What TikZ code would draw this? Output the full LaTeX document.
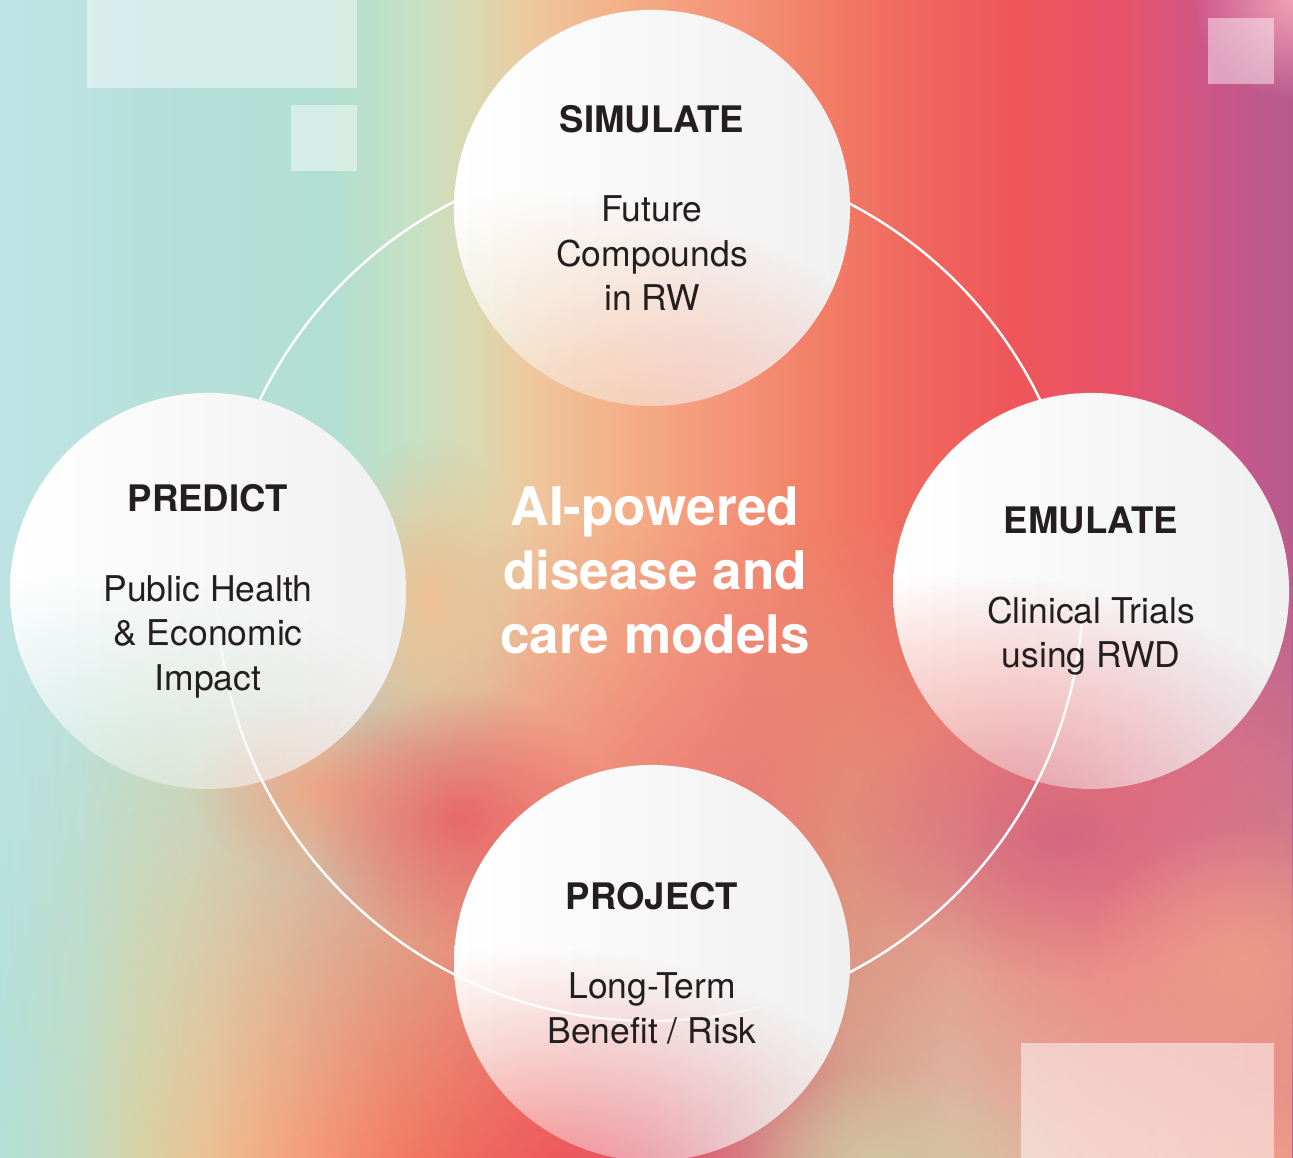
\documentclass[tikz,border=0pt]{standalone}
\usepackage{fontspec}
\setmainfont{TeX Gyre Heros}
\usetikzlibrary{fadings}

\definecolor{ink}{HTML}{231F20}
% upper wash, left to right
\definecolor{tg0}{HTML}{C0E4E6}
\definecolor{tg1}{HTML}{B6E0DA}
\definecolor{tg2}{HTML}{B2DFD2}
\definecolor{tg3}{HTML}{C8E0C2}
\definecolor{tg4}{HTML}{DCD8B0}
\definecolor{tg5}{HTML}{EEC89E}
\definecolor{tg6}{HTML}{F4B088}
\definecolor{tg7}{HTML}{F4967A}
\definecolor{tg8}{HTML}{F27E66}
\definecolor{tg9}{HTML}{F0665E}
\definecolor{tg10}{HTML}{EE555A}
\definecolor{tg11}{HTML}{E9526A}
\definecolor{tg12}{HTML}{CC5788}
\definecolor{tg13}{HTML}{B65A8E}
% lower wash, left to right
\definecolor{lg0}{HTML}{B3E0D6}
\definecolor{lg1}{HTML}{C2DCC4}
\definecolor{lg2}{HTML}{D8D2A4}
\definecolor{lg3}{HTML}{EAC496}
\definecolor{lg4}{HTML}{F3AE84}
\definecolor{lg5}{HTML}{F59474}
\definecolor{lg6}{HTML}{F27C64}
\definecolor{lg7}{HTML}{EF6A5E}
\definecolor{lg8}{HTML}{EE5A5C}
\definecolor{lg9}{HTML}{E4586A}
\definecolor{lg10}{HTML}{D8687A}
\definecolor{lg11}{HTML}{D2A894}
\definecolor{lg12}{HTML}{DCBEA8}
\definecolor{lg13}{HTML}{EAA898}
\definecolor{lg14}{HTML}{EF9A88}
% spots
\definecolor{spotred}{HTML}{EA5460}
\definecolor{spotpink}{HTML}{F2A0B4}
\definecolor{spotsand}{HTML}{EEC294}
\definecolor{spotplum}{HTML}{CC5E82}
\definecolor{spottan}{HTML}{D2C2A0}
\definecolor{spotsalmon}{HTML}{EF9A88}
\definecolor{spotorange}{HTML}{F4A07C}

\pgfdeclarehorizontalshading{topglow}{100bp}{color(0bp)=(tg0); color(25bp)=(tg0);
  color(30.8bp)=(tg1); color(37.76bp)=(tg2); color(41.24bp)=(tg3); color(43.56bp)=(tg4);
  color(45.49bp)=(tg5); color(48.97bp)=(tg6); color(52.84bp)=(tg7); color(56.71bp)=(tg8);
  color(60.58bp)=(tg9); color(64.44bp)=(tg10); color(68.31bp)=(tg11); color(71.79bp)=(tg12);
  color(75bp)=(tg13); color(100bp)=(tg13)}
\pgfdeclarehorizontalshading{lowglow}{100bp}{color(0bp)=(lg0); color(25bp)=(lg0);
  color(28.09bp)=(lg1); color(30.41bp)=(lg2); color(32.73bp)=(lg3); color(35.05bp)=(lg4);
  color(37.76bp)=(lg5); color(40.47bp)=(lg6); color(43.17bp)=(lg7); color(46.27bp)=(lg8);
  color(50.14bp)=(lg9); color(54bp)=(lg10); color(57.87bp)=(lg11); color(61.74bp)=(lg12);
  color(67.54bp)=(lg13); color(75bp)=(lg14); color(100bp)=(lg14)}

\tikzfading[name=blobfade, inner color=transparent!0, outer color=transparent!100]
\tikzfading[name=rise, top color=transparent!100, middle color=transparent!0, bottom color=transparent!0]

% white balls: opaque, clearer towards the lower left rim
\begin{tikzfadingfrompicture}[name=glass]
  \fill[transparent!0] (-2,-2) rectangle (2,2);
  \shade[inner color=transparent!80, outer color=transparent!0] (-0.9,-1.45) ellipse (1.8 and 1.2);
\end{tikzfadingfrompicture}

\newcommand\stagehead[1]{{\fontsize{10.4}{12.66}\selectfont\bfseries #1}\\[12.9pt]}

\begin{document}
\begin{tikzpicture}[
    ball/.style={circle, minimum size=3.96cm, inner sep=0pt, align=center,
      text=ink, font=\fontsize{10.1}{12.66}\selectfont,
      preaction={left color=white, right color=black!6, path fading=glass}},
    hub/.style={align=center, text=white, font=\fontsize{15.1}{18.2}\selectfont\bfseries},
    ring/.style={draw=white, line width=0.7pt},
    blob/.style={path fading=blobfade},
    tile/.style={fill=white, opacity=0.45},
  ]
  \useasboundingbox (0,0) rectangle (12.93,11.58);
  \clip (0,0) rectangle (12.93,11.58);

  % background wash
  \shade[shading=topglow] (0,0) rectangle (12.93,11.58);
  \shade[shading=lowglow, path fading=rise] (0,0) rectangle (12.93,6.4);
  \fill[blob, fill=spotsand] (4.30,5.6) ellipse (1.0 and 1.6);
  \fill[blob, fill=spotorange, opacity=0.8] (3.2,3.7) ellipse (1.3 and 0.9);
  \fill[blob, fill=spotred, opacity=0.75] (4.6,3.4) ellipse (1.5 and 1.3);
  \fill[blob, fill=spotplum, opacity=0.7] (10.6,3.2) ellipse (2.2 and 1.4);
  \fill[blob, fill=spotsalmon] (12.4,1.9) ellipse (1.6 and 1.4);
  \fill[blob, fill=spottan] (8.8,0) ellipse (1.8 and 0.9);
  \fill[blob, fill=spotpink] (12.93,11.58) circle (1.0);

  % tiles
  \fill[tile] (0.87,10.70) rectangle (3.57,11.58);
  \fill[tile] (2.91,9.87) rectangle (3.57,10.53);
  \fill[tile] (12.08,10.74) rectangle (12.74,11.40);
  \fill[tile, opacity=0.5] (10.21,0) rectangle (12.74,1.15);

  % ring behind the stages
  \coordinate (hubc) at (6.50,5.70);
  \draw[ring] (hubc) circle (4.33);

  \node[ball] (simulate) at (6.52,9.50) {\stagehead{SIMULATE}Future\\Compounds\\in RW};
  \node[ball] (predict) at (2.08,5.67) {\stagehead{PREDICT}Public Health\\\& Economic\\Impact};
  \node[ball] (emulate) at (10.91,5.67) {\stagehead{EMULATE}Clinical Trials\\using RWD};
  \node[ball] (project) at (6.52,1.95) {\stagehead{PROJECT}Long-Term\\Benefit / Risk};

  \node[hub] (hub) at (6.55,5.88) {AI-powered\\disease and\\care models};
\end{tikzpicture}
\end{document}
